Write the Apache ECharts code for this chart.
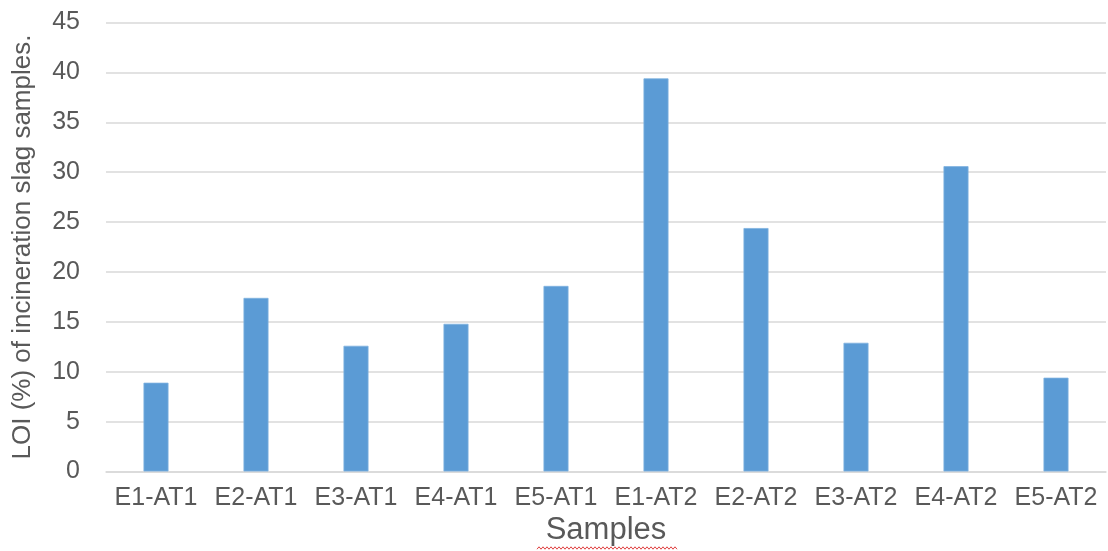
<!DOCTYPE html>
<html>
<head>
<meta charset="utf-8">
<script src="https://cdn.jsdelivr.net/npm/echarts@6/dist/echarts.min.js"></script>
<style>
  html, body { margin: 0; padding: 0; background: #fff; }
  #chart { width: 1108px; height: 551px; }
</style>
</head>
<body>
<div id="chart"></div>
<script>
// Loss on ignition per slag sample
const categories = ['E1-AT1', 'E2-AT1', 'E3-AT1', 'E4-AT1', 'E5-AT1',
                    'E1-AT2', 'E2-AT2', 'E3-AT2', 'E4-AT2', 'E5-AT2'];
const loiValues = [8.9, 17.4, 12.6, 14.8, 18.6, 39.4, 24.4, 12.9, 30.6, 9.4];
const yTicks = [0, 5, 10, 15, 20, 25, 30, 35, 40, 45];

const textColor = '#595959';
const fontFamily = '"Liberation Sans", Arial, sans-serif';

// wavy spell-check underline beneath the axis title
function squiggle(x0, x1, y) {
  const pts = [];
  for (let x = x0, i = 0; x <= x1; x += 2, i++) pts.push([x, y + (i % 2 ? -1.2 : 1.2)]);
  return pts;
}

const chart = echarts.init(document.getElementById('chart'), null, { renderer: 'canvas' });
chart.setOption({
  animation: false,
  backgroundColor: '#ffffff',
  grid: { left: 106, right: 2, top: 22.5, bottom: 79.5, containLabel: false, outerBoundsMode: 'none' },
  xAxis: {
    type: 'category',
    data: categories,
    name: 'Samples',
    nameLocation: 'middle',
    nameGap: 42,
    nameTextStyle: { color: textColor, fontSize: 31, fontFamily },
    axisLine: { show: true, lineStyle: { color: '#D9D9D9', width: 1.5 } },
    axisTick: { show: false },
    axisLabel: { color: textColor, fontSize: 25, fontFamily, margin: 14, interval: 0 }
  },
  yAxis: {
    type: 'value',
    min: yTicks[0],
    max: yTicks[yTicks.length - 1],
    interval: 5,
    name: 'LOI (%) of incineration slag samples.',
    nameLocation: 'middle',
    nameGap: 70,
    nameRotate: 90,
    nameTextStyle: { color: textColor, fontSize: 26, fontFamily },
    axisLine: { show: false },
    axisTick: { show: false },
    axisLabel: { color: textColor, fontSize: 25, fontFamily, margin: 26 },
    splitLine: { lineStyle: { color: '#D9D9D9', width: 1.5 } }
  },
  series: [{
    type: 'bar',
    data: loiValues,
    barWidth: '25%',
    itemStyle: { color: '#5B9BD5', borderColor: '#7FB2E0', borderWidth: 0.8 }
  }],
  graphic: [{
    type: 'polyline',
    shape: { points: squiggle(537, 677, 548) },
    style: { stroke: '#E04040', lineWidth: 1, fill: null },
    silent: true
  }]
});
</script>
</body>
</html>
